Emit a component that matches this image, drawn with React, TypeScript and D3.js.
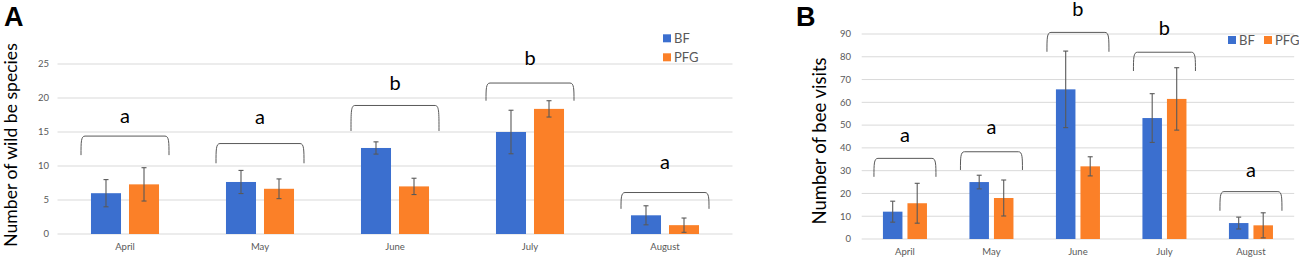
import React from "react";
import * as d3 from "d3";

const months = ["April", "May", "June", "July", "August"];
const series = ["BF", "PFG"];

// Panel A: number of wild bee species
const speciesBF = [6.0, 7.65, 12.65, 15.0, 2.75];
const speciesBFErr = [2.0, 1.7, 0.9, 3.2, 1.4];
const speciesPFG = [7.3, 6.65, 7.0, 18.4, 1.3];
const speciesPFGErr = [2.45, 1.45, 1.2, 1.2, 1.05];
const speciesTicks = [0, 5, 10, 15, 20, 25];
const speciesLetters = ["a", "a", "b", "b", "a"];
const speciesBracketTop = [14.4, 13.3, 18.9, 22.2, 6.1];
const speciesBracketBottom = [11.6, 10.4, 15.15, 19.6, 3.7];
const speciesLetterPos = [17.25, 17.0, 22.0, 25.7, 10.4];

// Panel B: number of bee visits
const visitsBF = [12.0, 25.0, 65.7, 53.1, 7.0];
const visitsBFErr = [4.6, 3.0, 16.8, 10.7, 2.6];
const visitsPFG = [15.7, 18.0, 31.9, 61.5, 6.0];
const visitsPFGErr = [8.75, 7.9, 4.2, 13.7, 5.5];
const visitsTicks = [0, 10, 20, 30, 40, 50, 60, 70, 80, 90];
const visitsLetters = ["a", "a", "b", "b", "a"];
const visitsBracketTop = [35.4, 38.3, 90.7, 82.0, 20.8];
const visitsBracketBottom = [27.3, 30.3, 82.2, 73.75, 12.4];
const visitsLetterPos = [45.2, 48.6, 100.5, 92.05, 30.0];

const BLUE = "#3b6fcf";
const ORANGE = "#fb8028";
const GREY = "#595959";
const GRID = "#d9d9d9";
const FONT = "Lato, 'Open Sans', sans-serif";

type PanelProps = {
  letter: string;
  letterX: number;
  yLabel: string;
  yLabelX: number;
  yLabelY: number;
  yLabelSize: number;
  x0: number;
  x1: number;
  yTop: number;
  yBottom: number;
  yMax: number;
  ticks: number[];
  tickX: number;
  bf: number[];
  bfErr: number[];
  pfg: number[];
  pfgErr: number[];
  letters: string[];
  bTop: number[];
  bBottom: number[];
  lPos: number[];
  outerPad: number;
  innerPad: number;
  bracketHalf: number;
  xLabelY: number;
  legend: (c: string, i: number) => { x: number; y: number };
};

function bracketPath(xa: number, xb: number, yt: number, yb: number) {
  const r = 4;
  return `M${xa},${yb} C${xa},${yt + 6} ${xa},${yt} ${xa + r},${yt} L${xb - r},${yt} C${xb},${yt} ${xb},${yt + 6} ${xb},${yb}`;
}

function Panel(p: PanelProps) {
  const x = d3
    .scaleBand<string>()
    .domain(months)
    .range([p.x0, p.x1])
    .paddingInner(p.outerPad)
    .paddingOuter(p.outerPad / 2);
  const xs = d3
    .scaleBand<string>()
    .domain(series)
    .range([0, x.bandwidth()])
    .paddingInner(p.innerPad);
  const y = d3.scaleLinear().domain([0, p.yMax]).range([p.yBottom, p.yTop]);
  const vals = [p.bf, p.pfg];
  const errs = [p.bfErr, p.pfgErr];
  const colors = [BLUE, ORANGE];
  return (
    <g>
      <text x={p.letterX} y={26} fontFamily="'Liberation Sans', Arial, sans-serif" fontWeight="bold" fontSize={27} fill="#000">
        {p.letter}
      </text>
      <text
        transform={`translate(${p.yLabelX},${p.yLabelY}) rotate(-90)`}
        textAnchor="middle"
        fontFamily={FONT}
        fontSize={p.yLabelSize}
        fill="#000"
      >
        {p.yLabel}
      </text>
      {p.ticks.map((t) => (
        <g key={t}>
          <line x1={p.x0} x2={p.x1} y1={y(t)} y2={y(t)} stroke={GRID} strokeWidth={1} />
          <text x={p.tickX} y={y(t)} dy="0.35em" textAnchor="end" fontFamily={FONT} fontSize={9.5} fill={GREY}>
            {t}
          </text>
        </g>
      ))}
      {months.map((m, i) => (
        <g key={m}>
          {series.map((s, j) => {
            const bx = (x(m) as number) + (xs(s) as number);
            const bw = xs.bandwidth();
            const v = vals[j][i];
            const e = errs[j][i];
            const cx = bx + bw / 2;
            return (
              <g key={s}>
                <rect x={bx} y={y(v)} width={bw} height={y(0) - y(v)} fill={colors[j]} />
                <line x1={cx} x2={cx} y1={y(v + e)} y2={y(v - e)} stroke={GREY} strokeWidth={1.1} />
                <line x1={cx - 2.5} x2={cx + 2.5} y1={y(v + e)} y2={y(v + e)} stroke={GREY} strokeWidth={1.1} />
                <line x1={cx - 2.5} x2={cx + 2.5} y1={y(v - e)} y2={y(v - e)} stroke={GREY} strokeWidth={1.1} />
              </g>
            );
          })}
          <text
            x={(x(m) as number) + x.bandwidth() / 2}
            y={p.xLabelY}
            dy="0.35em"
            textAnchor="middle"
            fontFamily={FONT}
            fontSize={9.5}
            fill={GREY}
          >
            {m}
          </text>
          <path
            d={bracketPath(
              (x(m) as number) + x.bandwidth() / 2 - p.bracketHalf,
              (x(m) as number) + x.bandwidth() / 2 + p.bracketHalf,
              y(p.bTop[i]),
              y(p.bBottom[i])
            )}
            fill="none"
            stroke={GREY}
            strokeWidth={1}
          />
          <text
            x={(x(m) as number) + x.bandwidth() / 2}
            y={y(p.lPos[i])}
            dy="0.3em"
            textAnchor="middle"
            fontFamily={FONT}
            fontSize={20}
            fill="#000"
          >
            {p.letters[i]}
          </text>
        </g>
      ))}
      {series.map((s, j) => {
        const pos = p.legend(s, j);
        return (
          <g key={s}>
            <rect x={pos.x} y={pos.y - 4} width={8} height={8} fill={colors[j]} />
            <text x={pos.x + 11} y={pos.y} dy="0.35em" fontFamily={FONT} fontSize={13} fill={GREY}>
              {s}
            </text>
          </g>
        );
      })}
    </g>
  );
}

export default function App() {
  return (
    <svg
      width={1299}
      height={259}
      style={{ position: "absolute", left: 0, top: 0, background: "#fff" }}
    >
      <rect width={1299} height={259} fill="#fff" />
      <Panel
        letter="A"
        letterX={4}
        yLabel="Number of wild be species"
        yLabelX={16.5}
        yLabelY={145}
        yLabelSize={17.6}
        x0={57.5}
        x1={732.5}
        yTop={64}
        yBottom={234}
        yMax={25}
        ticks={speciesTicks}
        tickX={49}
        bf={speciesBF}
        bfErr={speciesBFErr}
        pfg={speciesPFG}
        pfgErr={speciesPFGErr}
        letters={speciesLetters}
        bTop={speciesBracketTop}
        bBottom={speciesBracketBottom}
        lPos={speciesLetterPos}
        outerPad={0.496}
        innerPad={0.21}
        bracketHalf={44}
        xLabelY={246.5}
        legend={(s, j) => ({ x: 663, y: 38.3 + j * 19 })}
      />
      <Panel
        letter="B"
        letterX={796}
        yLabel="Number of bee visits"
        yLabelX={826}
        yLabelY={141}
        yLabelSize={18.5}
        x0={861.7}
        x1={1294.2}
        yTop={34}
        yBottom={239}
        yMax={90}
        ticks={visitsTicks}
        tickX={851}
        bf={visitsBF}
        bfErr={visitsBFErr}
        pfg={visitsPFG}
        pfgErr={visitsPFGErr}
        letters={visitsLetters}
        bTop={visitsBracketTop}
        bBottom={visitsBracketBottom}
        lPos={visitsLetterPos}
        outerPad={0.491}
        innerPad={0.204}
        bracketHalf={31}
        xLabelY={252}
        legend={(s, j) => ({ x: 1228 + j * 36, y: 40 })}
      />
    </svg>
  );
}
